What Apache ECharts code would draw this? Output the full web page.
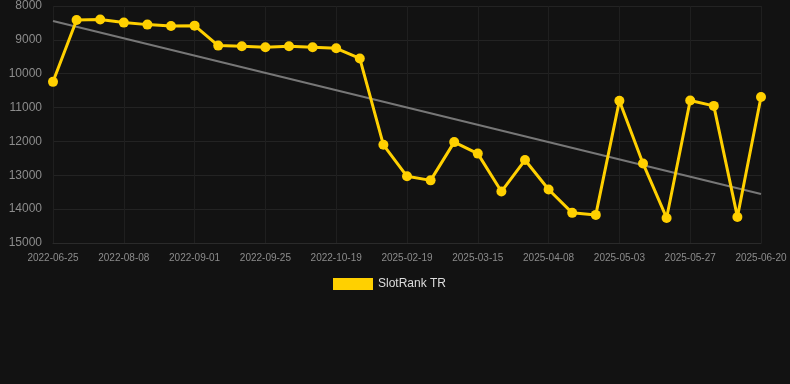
<!DOCTYPE html>
<html><head><meta charset="utf-8">
<script src="https://cdn.jsdelivr.net/npm/echarts@6/dist/echarts.min.js"></script>
<style>html,body{margin:0;padding:0;background:#121212;}#c{width:790px;height:384px;}</style>
</head><body><div id="c"></div>
<script>
var categories = ['2022-06-25','2022-07-17','2022-07-31','2022-08-08','2022-08-16','2022-08-24','2022-09-01','2022-09-09','2022-09-17','2022-09-25','2022-10-03','2022-10-11','2022-10-19','2022-10-27','2025-02-11','2025-02-19','2025-02-27','2025-03-07','2025-03-15','2025-03-23','2025-03-31','2025-04-08','2025-04-16','2025-04-24','2025-05-03','2025-05-11','2025-05-19','2025-05-27','2025-06-04','2025-06-12','2025-06-20'];
var rankValues = [10240,8413,8400,8490,8550,8590,8580,9170,9190,9220,9190,9220,9250,9550,12100,13030,13150,12020,12360,13480,12550,13420,14110,14170,10800,12650,14260,10790,10950,14230,10690];
var trendStart = 8443, trendEnd = 13552;
var yTicks = {min: 8000, max: 15000, interval: 1000};

var trend = categories.map(function(c, i){ return i === 0 ? trendStart : (i === categories.length - 1 ? trendEnd : null); });

var chart = echarts.init(document.getElementById('c'), null, {renderer: 'canvas'});
chart.setOption({
  backgroundColor: '#121212',
  animation: false,
  grid: {left: 53, right: 29, top: 6, bottom: 141, containLabel: false},
  legend: {
    data: [{name: 'SlotRank TR', icon: 'rect'}],
    top: 273, left: 328,
    itemWidth: 40, itemHeight: 12, itemGap: 10, itemStyle: {borderWidth: 0},
    textStyle: {color: '#dddddd', fontSize: 12, fontFamily: 'Liberation Sans, Arial, sans-serif'}
  },
  xAxis: {
    type: 'category', data: categories, boundaryGap: false,
    axisLine: {show: true, lineStyle: {color: '#2a2a2a'}},
    axisTick: {show: false},
    axisLabel: {interval: 2, color: '#8c8c8c', fontSize: 10, margin: 10, fontFamily: 'Liberation Sans, Arial, sans-serif'},
    splitLine: {show: true, interval: 2, lineStyle: {color: '#1f1f1f'}}
  },
  yAxis: {
    type: 'value', inverse: true, min: yTicks.min, max: yTicks.max, interval: yTicks.interval,
    axisLine: {show: false}, axisTick: {show: false},
    axisLabel: {color: '#8c8c8c', fontSize: 12, margin: 11, fontFamily: 'Liberation Sans, Arial, sans-serif',
      formatter: function(v){ return String(v); }},
    splitLine: {show: true, lineStyle: {color: '#232323'}}
  },
  series: [
    {
      name: 'Trend', type: 'line', data: trend, connectNulls: true, symbol: 'none',
      lineStyle: {color: '#777777', width: 2}, silent: true, z: 1
    },
    {
      name: 'SlotRank TR', type: 'line', data: rankValues,
      symbol: 'circle', symbolSize: 10,
      itemStyle: {color: '#FFD000'},
      lineStyle: {color: '#FFD000', width: 3}, z: 2
    }
  ]
});
</script></body></html>
